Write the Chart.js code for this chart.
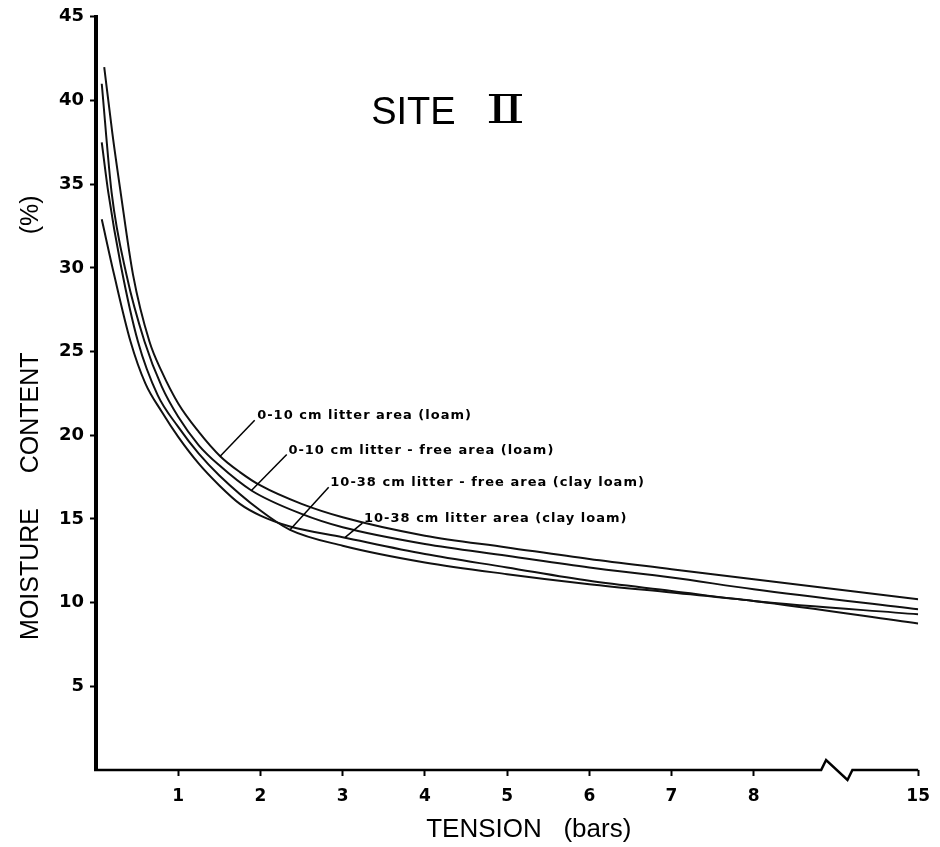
<!DOCTYPE html>
<html><head><meta charset="utf-8">
<script src="https://cdn.jsdelivr.net/npm/chart.js@4.4.0/dist/chart.umd.min.js"></script>
<style>html,body{margin:0;padding:0;background:#fff}#wrap{width:940px;height:847px}</style>
</head><body><div id="wrap"><canvas id="c" width="940" height="847"></canvas></div>
<script>
// ---- data (tension in bars, moisture content in %) ----
const seriesNames = [
  '0-10 cm litter area (loam)',
  '0-10 cm litter - free area (loam)',
  '10-38 cm litter - free area (clay loam)',
  '10-38 cm litter area (clay loam)'
];
const tensionA  = [0.1, 0.2, 0.3, 0.45, 0.65, 0.8, 1.0, 1.25, 1.51, 1.75, 2.0, 2.5, 3, 4, 5, 6, 7, 8, 15];
const moistureA = [42, 38, 34.5, 29.6, 25.6, 23.8, 21.9, 20.2, 18.75, 17.8, 17.0, 15.9, 15.1, 14.0, 13.3, 12.6, 12.0, 11.4, 10.2];
const tensionB  = [0.07, 0.19, 0.37, 0.59, 0.8, 1.0, 1.25, 1.5, 1.89, 2.5, 3, 4, 5, 6, 7, 8, 15];
const moistureB = [41, 34.5, 29.6, 25.6, 22.9, 21.1, 19.4, 18.2, 16.7, 15.3, 14.5, 13.5, 12.8, 12.1, 11.5, 10.8, 9.6];
const tensionC  = [0.07, 0.15, 0.3, 0.51, 0.75, 1.0, 1.25, 1.5, 2.0, 2.36, 3, 4, 5, 6, 7, 8, 15];
const moistureC = [37.5, 34.5, 30.2, 25.6, 22.4, 20.5, 18.9, 17.6, 15.5, 14.35, 13.4, 12.4, 11.7, 11.1, 10.6, 10.1, 8.75];
const tensionD  = [0.07, 0.22, 0.42, 0.6, 0.8, 1.0, 1.25, 1.5, 1.75, 2.0, 2.36, 3, 4, 5, 6, 7, 8, 15];
const moistureD = [32.9, 29.6, 25.6, 23.1, 21.4, 19.9, 18.3, 17.0, 15.9, 15.2, 14.55, 13.9, 12.9, 12.1, 11.3, 10.7, 10.1, 9.3];

const xTickValues = [1, 2, 3, 4, 5, 6, 7, 8, 15];
const yTickValues = [5, 10, 15, 20, 25, 30, 35, 40, 45];

// ---- broken tension axis: 0..8 linear, then 8..15 compressed into 2 units ----
const BREAK_AT = 8, BREAK_FACTOR = 2 / 7;
function axisPos(t) { return t <= BREAK_AT ? t : BREAK_AT + (t - BREAK_AT) * BREAK_FACTOR; }
function tensionAt(p) { return p <= BREAK_AT ? p : BREAK_AT + (p - BREAK_AT) / BREAK_FACTOR; }

// ---- annotation placement (data coordinates: tension, moisture) ----
const labelPlacement = [
  { text: seriesNames[0], textAt: [1.96, 21.2], from: [1.93, 20.9], to: [1.51, 18.75] },
  { text: seriesNames[1], textAt: [2.34, 19.1], from: [2.32, 18.85], to: [1.89, 16.7] },
  { text: seriesNames[2], textAt: [2.85, 17.15], from: [2.83, 16.9], to: [2.36, 14.35] },
  { text: seriesNames[3], textAt: [3.26, 15.0], from: [3.24, 14.75], to: [3.03, 13.9] }
];
const titleWord = 'SITE', titleNumeral = '\u2161';
const titleAt = [3.86, 39.2], numeralAt = [4.98, 39.25];
const axisBreak = { from: 8.82, peak: 8.88, trough: 9.14, to: 9.2, amp: 10 };

function toPoints(ts, ms) { return ts.map((t, i) => ({ x: axisPos(t), y: ms[i] })); }

const lineStyle = { borderColor: '#111', borderWidth: 2, pointRadius: 0, fill: false, cubicInterpolationMode: 'monotone' };

const annotationPlugin = {
  id: 'annotations',
  afterDatasetsDraw(chart) {
    const { ctx, scales: { x, y } } = chart;
    const px = t => x.getPixelForValue(axisPos(t));
    ctx.save();
    // x-axis line with break symbol
    const y0 = y.getPixelForValue(0);
    ctx.strokeStyle = '#000';
    ctx.lineWidth = 2.5;
    ctx.lineJoin = 'miter';
    ctx.beginPath();
    ctx.moveTo(x.left - 2, y0);
    ctx.lineTo(x.getPixelForValue(axisBreak.from), y0);
    ctx.lineTo(x.getPixelForValue(axisBreak.peak), y0 - axisBreak.amp);
    ctx.lineTo(x.getPixelForValue(axisBreak.trough), y0 + axisBreak.amp);
    ctx.lineTo(x.getPixelForValue(axisBreak.to), y0);
    ctx.lineTo(x.right, y0);
    ctx.stroke();
    // title
    ctx.fillStyle = '#000';
    ctx.textAlign = 'center';
    ctx.textBaseline = 'middle';
    ctx.font = '38px "Liberation Sans", sans-serif';
    ctx.fillText(titleWord, px(titleAt[0]), y.getPixelForValue(titleAt[1]));
    ctx.save();
    ctx.translate(px(numeralAt[0]), y.getPixelForValue(numeralAt[1]));
    ctx.scale(1.45, 1);
    ctx.font = '40px "DejaVu Serif", "DejaVu Sans", serif';
    ctx.fillText(titleNumeral, 0, 0);
    ctx.restore();
    // curve labels with leader lines
    ctx.font = 'bold 13px "DejaVu Sans", sans-serif';
    if ('letterSpacing' in ctx) ctx.letterSpacing = '1px';
    ctx.textAlign = 'left';
    ctx.lineWidth = 1.5;
    labelPlacement.forEach(l => {
      ctx.fillText(l.text, px(l.textAt[0]), y.getPixelForValue(l.textAt[1]));
      ctx.beginPath();
      ctx.moveTo(px(l.from[0]), y.getPixelForValue(l.from[1]));
      ctx.lineTo(px(l.to[0]), y.getPixelForValue(l.to[1]));
      ctx.stroke();
    });
    ctx.restore();
  }
};

new Chart(document.getElementById('c'), {
  type: 'line',
  data: {
    datasets: [
      Object.assign({ label: seriesNames[0], data: toPoints(tensionA, moistureA) }, lineStyle),
      Object.assign({ label: seriesNames[1], data: toPoints(tensionB, moistureB) }, lineStyle),
      Object.assign({ label: seriesNames[2], data: toPoints(tensionC, moistureC) }, lineStyle),
      Object.assign({ label: seriesNames[3], data: toPoints(tensionD, moistureD) }, lineStyle)
    ]
  },
  options: {
    responsive: false,
    animation: false,
    devicePixelRatio: 1,
    layout: { padding: { top: 14, right: 12, left: 0, bottom: 0 } },
    plugins: { legend: { display: false }, tooltip: { enabled: false } },
    scales: {
      x: {
        type: 'linear', min: 0, max: axisPos(15),
        afterBuildTicks: s => { s.ticks = xTickValues.map(v => ({ value: axisPos(v) })); },
        afterFit: s => { s.height = 77; },
        border: { display: false },
        grid: { display: true, drawOnChartArea: false, drawTicks: true, tickLength: 6, tickWidth: 2, tickColor: '#000' },
        ticks: {
          color: '#000', padding: 10,
          font: { family: 'DejaVu Sans', weight: 'bold', size: 17 },
          callback: v => String(Math.round(tensionAt(v)))
        },
        title: {
          display: true, text: '      TENSION   (bars)', color: '#000',
          font: { family: 'Liberation Sans', size: 26 },
          padding: { top: 0, bottom: 2 }
        }
      },
      y: {
        type: 'linear', min: 0, max: 45,
        afterBuildTicks: s => { s.ticks = yTickValues.map(v => ({ value: v })); },
        afterFit: s => { s.width = 96; },
        border: { display: true, width: 4, color: '#000' },
        grid: { display: true, drawOnChartArea: false, drawTicks: true, tickLength: 6, tickWidth: 2, tickColor: '#000' },
        ticks: {
          color: '#000', padding: 6,
          font: { family: 'DejaVu Sans', weight: 'bold', size: 18 },
          callback: v => String(v)
        },
        title: {
          display: true, text: 'MOISTURE     CONTENT                 (%)       ', color: '#000',
          font: { family: 'Liberation Sans', size: 25 },
          padding: { top: 16, bottom: 0 }
        }
      }
    }
  },
  plugins: [annotationPlugin]
});
</script>
</body></html>
